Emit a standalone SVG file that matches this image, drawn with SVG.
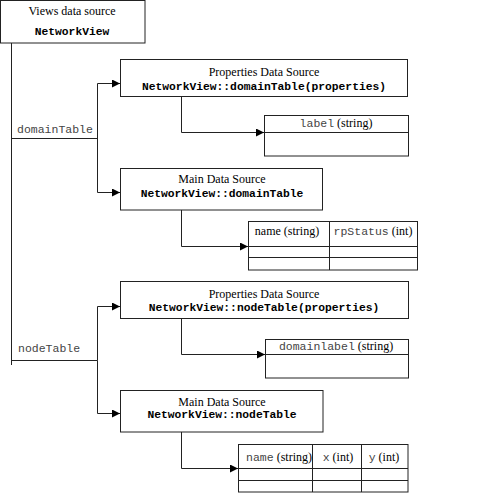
<svg xmlns="http://www.w3.org/2000/svg" width="492" height="499" viewBox="0 0 492 499">
<style>
rect.box{fill:#fff;stroke:#222;stroke-width:1}
line.tl{stroke:#222;stroke-width:1}
.conn{fill:none;stroke:#222;stroke-width:1}
.serif{font-family:"Liberation Serif","Times New Roman",serif;font-size:12px;fill:#000}
.mb{font-family:"Liberation Mono","Courier New",monospace;font-size:11.3px;font-weight:bold;fill:#000}
.mono{font-family:"Liberation Mono","Courier New",monospace;font-size:11.5px;fill:#444}
</style>
<defs>
<marker id="ah" viewBox="0 0 10 10" refX="10" refY="5" markerWidth="8" markerHeight="8" markerUnits="userSpaceOnUse" orient="auto">
<path d="M0,0 L10,5 L0,10 Z" fill="#000"/>
</marker>
</defs>
<rect x="0" y="0" width="492" height="499" fill="#fff"/>
<g id="connectors">
<path class="conn" d="M11.5,43 V365"/>
<path class="conn" d="M11.5,138.5 H97.5"/>
<path class="conn" d="M97.5,190 V83.5 H120" marker-end="url(#ah)"/>
<path class="conn" d="M97.5,138.5 V192.5 H120" marker-end="url(#ah)"/>
<path class="conn" d="M181.5,97 V132.5 H264" marker-end="url(#ah)"/>
<path class="conn" d="M181.5,210 V246.5 H248" marker-end="url(#ah)"/>
<path class="conn" d="M11.5,360.5 H97.5"/>
<path class="conn" d="M97.5,360.5 V306.5 H120" marker-end="url(#ah)"/>
<path class="conn" d="M97.5,360.5 V413.5 H120" marker-end="url(#ah)"/>
<path class="conn" d="M181.5,318 V354.5 H265" marker-end="url(#ah)"/>
<path class="conn" d="M181.5,432 V468.5 H238" marker-end="url(#ah)"/>
<text class="mono" x="17" y="133">domainTable</text>
<text class="mono" x="18" y="352">nodeTable</text>
</g>
<g id="views">
<rect class="box" x="0.5" y="0.5" width="144.5" height="42.5"/>
<text class="serif" x="72" y="15" text-anchor="middle">Views data source</text>
<text class="mb" x="72" y="35" text-anchor="middle">NetworkView</text>
</g>
<g id="props-domain">
<rect class="box" x="120.5" y="59.5" width="287" height="37"/>
<text class="serif" x="264" y="76" text-anchor="middle">Properties Data Source</text>
<text class="mb" x="264" y="90" text-anchor="middle">NetworkView::domainTable(properties)</text>
</g>
<g id="label-table">
<rect class="box" x="264.5" y="115.5" width="144" height="40.5"/>
<line class="tl" x1="264.5" y1="132.5" x2="408.5" y2="132.5"/>
<text x="336" y="127" text-anchor="middle"><tspan class="mono">label</tspan><tspan class="serif"> (string)</tspan></text>
</g>
<g id="main-domain">
<rect class="box" x="120.5" y="168.5" width="202" height="41.5"/>
<text class="serif" x="222" y="183" text-anchor="middle">Main Data Source</text>
<text class="mb" x="222" y="197" text-anchor="middle">NetworkView::domainTable</text>
</g>
<g id="domain-table">
<rect class="box" x="248.5" y="221.5" width="169" height="48.5"/>
<line class="tl" x1="248.5" y1="246.5" x2="417.5" y2="246.5"/>
<line class="tl" x1="248.5" y1="257.5" x2="417.5" y2="257.5"/>
<line class="tl" x1="329.5" y1="221.5" x2="329.5" y2="270"/>
<text class="serif" x="287" y="235" text-anchor="middle">name (string)</text>
<text x="373" y="235" text-anchor="middle"><tspan class="mono">rpStatus</tspan><tspan class="serif"> (int)</tspan></text>
</g>
<g id="props-node">
<rect class="box" x="120.5" y="281.5" width="288" height="37"/>
<text class="serif" x="264" y="298" text-anchor="middle">Properties Data Source</text>
<text class="mb" x="264" y="311" text-anchor="middle">NetworkView::nodeTable(properties)</text>
</g>
<g id="domainlabel-table">
<rect class="box" x="265.5" y="339.5" width="143" height="38.5"/>
<line class="tl" x1="265.5" y1="354.5" x2="408.5" y2="354.5"/>
<text x="336" y="350" text-anchor="middle"><tspan class="mono">domainlabel</tspan><tspan class="serif"> (string)</tspan></text>
</g>
<g id="main-node">
<rect class="box" x="120.5" y="390.5" width="202.5" height="41.5"/>
<text class="serif" x="222" y="406" text-anchor="middle">Main Data Source</text>
<text class="mb" x="222" y="418" text-anchor="middle">NetworkView::nodeTable</text>
</g>
<g id="node-table">
<rect class="box" x="238.5" y="444.5" width="169.5" height="47.5"/>
<line class="tl" x1="238.5" y1="468.5" x2="408" y2="468.5"/>
<line class="tl" x1="238.5" y1="480.5" x2="408" y2="480.5"/>
<line class="tl" x1="312.5" y1="444.5" x2="312.5" y2="492"/>
<line class="tl" x1="361.5" y1="444.5" x2="361.5" y2="492"/>
<text x="279" y="461" text-anchor="middle"><tspan class="mono">name</tspan><tspan class="serif"> (string)</tspan></text>
<text x="338" y="461" text-anchor="middle"><tspan class="mono">x</tspan><tspan class="serif"> (int)</tspan></text>
<text x="384" y="461" text-anchor="middle"><tspan class="mono">y</tspan><tspan class="serif"> (int)</tspan></text>
</g>
</svg>
